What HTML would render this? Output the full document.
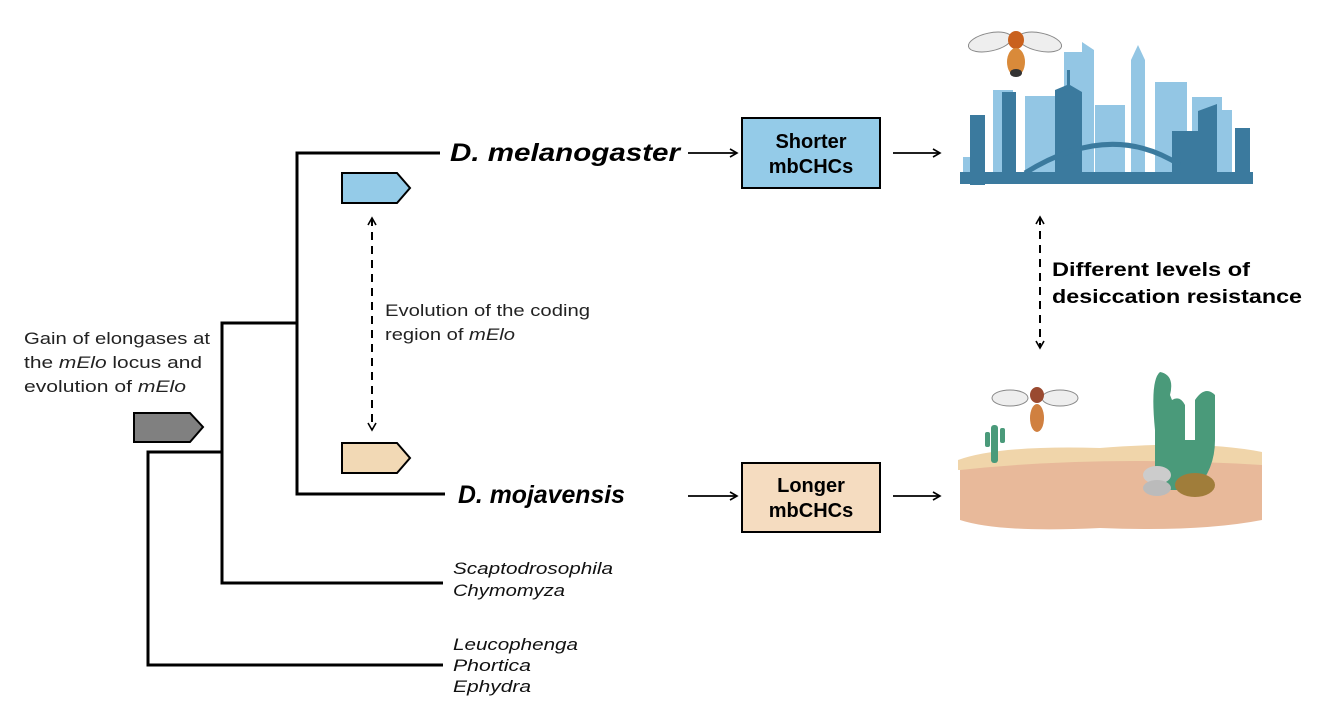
<!DOCTYPE html>
<html><head><meta charset="utf-8"><style>
body{margin:0;background:#fff;}
svg{display:block;font-family:"Liberation Sans",Arial,sans-serif;}
</style></head><body>
<svg width="1323" height="710" viewBox="0 0 1323 710" xmlns="http://www.w3.org/2000/svg">
<defs>
<marker id="ah" markerWidth="10" markerHeight="10" refX="8" refY="5" orient="auto" markerUnits="userSpaceOnUse">
<path d="M1,1 L8,5 L1,9" fill="none" stroke="#000" stroke-width="1.6"/></marker>
<marker id="ahs" markerWidth="10" markerHeight="10" refX="2" refY="5" orient="auto" markerUnits="userSpaceOnUse">
<path d="M9,1 L2,5 L9,9" fill="none" stroke="#000" stroke-width="1.6"/></marker>
</defs>
<g stroke="#000" stroke-width="3" fill="none">
<path d="M443,665 H148 V452 H222"/>
<path d="M443,583 H222 V323 H297"/>
<path d="M440,153 H297 V494 H445"/>
</g>
<path d="M134,413 H190 L203,427 L190,442 H134 Z" fill="#808080" stroke="#000" stroke-width="2"/>
<path d="M342,173 H397 L410,188 L397,203 H342 Z" fill="#94cbe8" stroke="#000" stroke-width="2"/>
<path d="M342,443 H397 L410,458 L397,473 H342 Z" fill="#f2d9b5" stroke="#000" stroke-width="2"/>
<line x1="372" y1="218" x2="372" y2="430" stroke="#000" stroke-width="2" stroke-dasharray="8,6" marker-start="url(#ahs)" marker-end="url(#ah)"/>
<line x1="1040" y1="217" x2="1040" y2="348" stroke="#000" stroke-width="2" stroke-dasharray="8,6" marker-start="url(#ahs)" marker-end="url(#ah)"/>
<g font-size="17" fill="#222" lengthAdjust="spacingAndGlyphs">
<text x="24" y="344" textLength="186" lengthAdjust="spacingAndGlyphs">Gain of elongases at</text>
<text x="24" y="368" textLength="178" lengthAdjust="spacingAndGlyphs">the <tspan font-style="italic">mElo</tspan> locus and</text>
<text x="24" y="392" textLength="162" lengthAdjust="spacingAndGlyphs">evolution of <tspan font-style="italic">mElo</tspan></text>
<text x="385" y="316" textLength="205" lengthAdjust="spacingAndGlyphs">Evolution of the coding</text>
<text x="385" y="340" textLength="130" lengthAdjust="spacingAndGlyphs">region of <tspan font-style="italic">mElo</tspan></text>
</g>
<g font-size="17" font-style="italic" fill="#111">
<text x="453" y="574" textLength="160" lengthAdjust="spacingAndGlyphs">Scaptodrosophila</text>
<text x="453" y="596" textLength="112" lengthAdjust="spacingAndGlyphs">Chymomyza</text>
<text x="453" y="650" textLength="125" lengthAdjust="spacingAndGlyphs">Leucophenga</text>
<text x="453" y="671" textLength="78" lengthAdjust="spacingAndGlyphs">Phortica</text>
<text x="453" y="692" textLength="78" lengthAdjust="spacingAndGlyphs">Ephydra</text>
</g>
<text x="450" y="161" font-size="25" font-weight="bold" font-style="italic" textLength="230" lengthAdjust="spacingAndGlyphs">D. melanogaster</text>
<text x="458" y="503" font-size="25" font-weight="bold" font-style="italic" textLength="167" lengthAdjust="spacingAndGlyphs">D. mojavensis</text>
<g stroke="#000" stroke-width="1.8">
<line x1="688" y1="153" x2="737" y2="153" marker-end="url(#ah)"/>
<line x1="893" y1="153" x2="940" y2="153" marker-end="url(#ah)"/>
<line x1="688" y1="496" x2="737" y2="496" marker-end="url(#ah)"/>
<line x1="893" y1="496" x2="940" y2="496" marker-end="url(#ah)"/>
</g>
<rect x="742" y="118" width="138" height="70" fill="#94cbe8" stroke="#000" stroke-width="2"/>
<rect x="742" y="463" width="138" height="69" fill="#f5dcc0" stroke="#000" stroke-width="2"/>
<g font-size="20" font-weight="bold" text-anchor="middle">
<text x="811" y="148">Shorter</text><text x="811" y="173">mbCHCs</text>
<text x="811" y="492">Longer</text><text x="811" y="517">mbCHCs</text>
</g>
<g font-size="19" font-weight="bold">
<text x="1052" y="276" textLength="198" lengthAdjust="spacingAndGlyphs">Different levels of</text>
<text x="1052" y="303" textLength="250" lengthAdjust="spacingAndGlyphs">desiccation resistance</text>
</g>
<g fill="#93c6e4">
<rect x="963" y="157" width="10" height="25"/>
<rect x="993" y="90" width="20" height="90"/>
<rect x="1025" y="96" width="30" height="85"/>
<path d="M1064,52 H1082 V180 H1064 Z"/>
<path d="M1082,42 L1094,50 V180 H1082 Z"/>
<rect x="1095" y="105" width="30" height="75"/>
<path d="M1131,60 L1138,45 L1145,60 V180 H1131 Z"/>
<rect x="1155" y="82" width="32" height="98"/>
<rect x="1192" y="97" width="30" height="83"/>
<rect x="1220" y="110" width="12" height="70"/>
</g>
<g fill="#3b7a9e">
<rect x="970" y="115" width="15" height="70"/>
<rect x="1002" y="92" width="14" height="90"/>
<path d="M1055,90 L1067,85 V70 H1070 V85 L1082,92 V180 H1055 Z"/>
<rect x="1172" y="131" width="35" height="50"/>
<path d="M1198,111 L1217,104 V180 H1198 Z"/>
<rect x="1235" y="128" width="15" height="52"/>
<rect x="960" y="172" width="293" height="12"/>
<path d="M1025,173 Q1110,120 1180,165" fill="none" stroke="#3b7a9e" stroke-width="5"/>
</g>
<g>
<ellipse cx="990" cy="42" rx="22" ry="9" fill="#eee" stroke="#888" transform="rotate(-12 990 42)"/>
<ellipse cx="1040" cy="42" rx="22" ry="9" fill="#eee" stroke="#888" transform="rotate(12 1040 42)"/>
<ellipse cx="1016" cy="40" rx="8" ry="9" fill="#c9611e"/>
<ellipse cx="1016" cy="62" rx="9" ry="14" fill="#d98a3a"/>
<ellipse cx="1016" cy="73" rx="6" ry="4" fill="#333"/>
</g>
<path d="M958,460 Q1000,445 1100,448 Q1200,440 1262,452 V470 H958 Z" fill="#f0d5aa"/>
<path d="M960,470 Q1100,455 1262,465 V520 Q1200,532 1100,528 Q1000,533 960,520 Z" fill="#e8b99a"/>
<rect x="991" y="425" width="7" height="38" rx="3" fill="#4a9a7a"/>
<rect x="985" y="432" width="5" height="15" rx="2" fill="#4a9a7a"/>
<rect x="1000" y="428" width="5" height="15" rx="2" fill="#4a9a7a"/>
<path d="M1155,490 V430 Q1150,380 1160,372 Q1175,375 1170,395 L1172,400 Q1180,395 1185,405 V440 L1195,440 V400 Q1205,385 1215,395 V440 Q1215,470 1195,490 Z" fill="#4a9a7a"/>
<ellipse cx="1157" cy="475" rx="14" ry="9" fill="#ccc"/>
<ellipse cx="1157" cy="488" rx="14" ry="8" fill="#bbb"/>
<ellipse cx="1195" cy="485" rx="20" ry="12" fill="#a07d3a"/>
<ellipse cx="1010" cy="398" rx="18" ry="8" fill="#eee" stroke="#888"/>
<ellipse cx="1060" cy="398" rx="18" ry="8" fill="#eee" stroke="#888"/>
<ellipse cx="1037" cy="395" rx="7" ry="8" fill="#9a4a30"/>
<ellipse cx="1037" cy="418" rx="7" ry="14" fill="#d08040"/>
</svg>
</body></html>
